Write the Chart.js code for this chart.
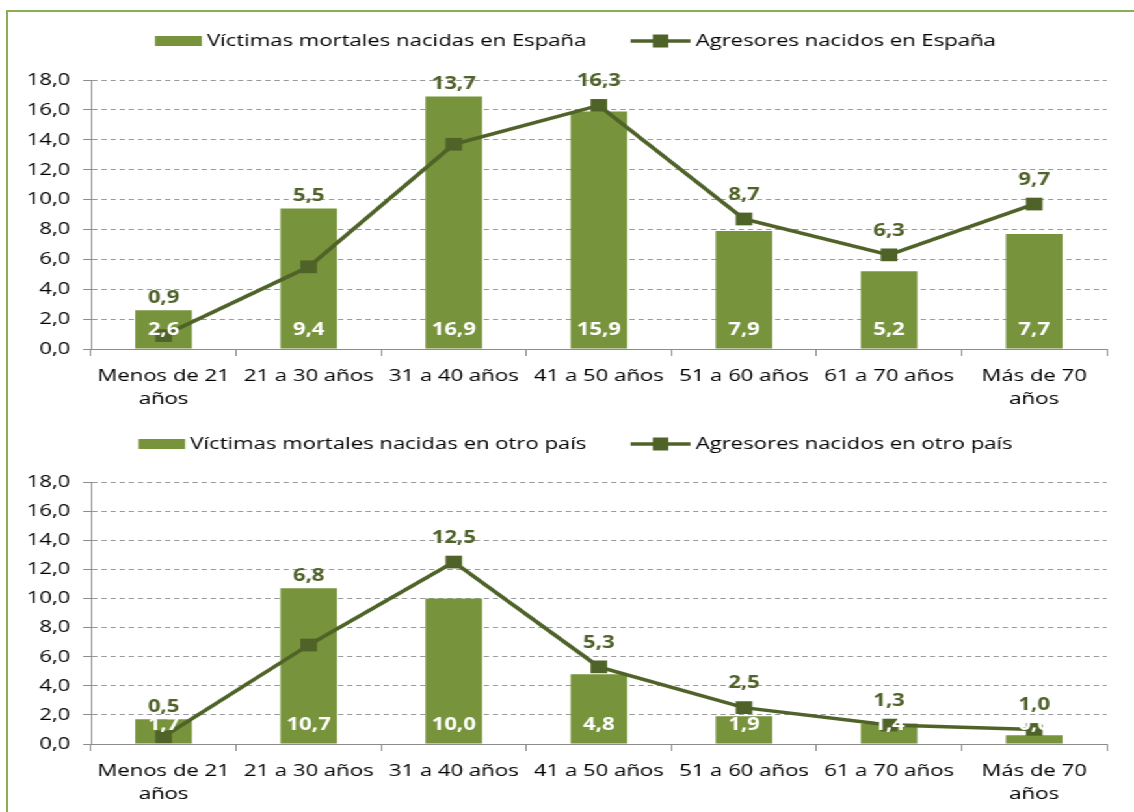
<!DOCTYPE html>
<html>
<head>
<meta charset="utf-8">
<script src="https://cdn.jsdelivr.net/npm/chart.js@4/dist/chart.umd.min.js"></script>
<style>
  html, body { margin: 0; padding: 0; background: #fff; }
  body { width: 1134px; height: 812px; overflow: hidden; position: relative; }
  #frame { position: absolute; left: 6px; top: 10px; right: -10px; bottom: -10px;
           border-left: 2px solid #8AAF52; border-top: 2px solid #8AAF52; }
  #wrap { position: absolute; left: 0; top: 0; width: 872px; height: 812px;
          transform: scaleX(1.3005); transform-origin: 0 0; }
  .box { position: absolute; left: 0; width: 872px; }
  #b1 { top: 0; height: 420px; }
  #b2 { top: 420px; height: 392px; }
</style>
</head>
<body>
<div id="frame"></div>
<div id="wrap">
  <div class="box" id="b1"><canvas id="c1"></canvas></div>
  <div class="box" id="b2"><canvas id="c2"></canvas></div>
</div>
<script>
// ---- Data ----
const categories = [["Menos de 21", "años"], "21 a 30 años", "31 a 40 años", "41 a 50 años", "51 a 60 años", "61 a 70 años", ["Más de 70", "años"]];
const victimasEspana = [2.6, 9.4, 16.9, 15.9, 7.9, 5.2, 7.7];
const agresoresEspana = [0.9, 5.5, 13.7, 16.3, 8.7, 6.3, 9.7];
const victimasOtro = [1.7, 10.7, 10.0, 4.8, 1.9, 1.4, 0.6];
const agresoresOtro = [0.5, 6.8, 12.5, 5.3, 2.5, 1.3, 1.0];
const legendTop = ["Víctimas mortales nacidas en España", "Agresores nacidos en España"];
const legendBottom = ["Víctimas mortales nacidas en otro país", "Agresores nacidos en otro país"];
const yMin = 0, yMax = 18, yStep = 2;

// ---- Styles ----
const BAR = '#77933C';
const LINE = '#4F6228';
const FONT = '"Open Sans", "Liberation Sans", sans-serif';
const FS = 17;
const fmt = v => v.toFixed(1).replace('.', ',');

const labelsPlugin = {
  id: 'valueLabels',
  afterDatasetsDraw(chart) {
    const ctx = chart.ctx;
    const barMeta = chart.getDatasetMeta(0);
    const lineMeta = chart.getDatasetMeta(1);
    const barData = chart.data.datasets[0].data;
    const lineData = chart.data.datasets[1].data;
    const y0 = chart.scales.y.getPixelForValue(0);
    ctx.save();
    ctx.font = `bold ${FS}px ${FONT}`;
    ctx.textAlign = 'center';
    ctx.textBaseline = 'middle';
    ctx.fillStyle = '#FFFFFF';
    barMeta.data.forEach((el, i) => {
      ctx.fillText(fmt(barData[i]), el.x, y0 - 19);
    });
    ctx.fillStyle = LINE;
    lineMeta.data.forEach((el, i) => {
      const barTop = barMeta.data[i].y;
      const y = Math.min(el.y - 24, barTop - 12);
      ctx.fillText(fmt(lineData[i]), el.x, y);
    });
    ctx.restore();
  }
};

const legendPlugin = {
  id: 'topLegend',
  afterDraw(chart, args, opts) {
    const ctx = chart.ctx;
    const names = chart.data.datasets.map(d => d.label);
    ctx.save();
    ctx.font = `${FS}px ${FONT}`;
    ctx.textBaseline = 'middle';
    const sw1 = 36, sw2 = 46, gapT = 4, gapItem = 34;
    const w1 = ctx.measureText(names[0]).width;
    const w2 = ctx.measureText(names[1]).width;
    const total = sw1 + gapT + w1 + gapItem + sw2 + gapT + w2;
    let x = opts.cx - total / 2;
    const y = opts.y;
    ctx.fillStyle = BAR;
    ctx.fillRect(x, y - 5, sw1, 10);
    x += sw1 + gapT;
    ctx.fillStyle = '#000';
    ctx.fillText(names[0], x, y);
    x += w1 + gapItem;
    ctx.strokeStyle = LINE;
    ctx.lineWidth = 3.5;
    ctx.beginPath();
    ctx.moveTo(x, y);
    ctx.lineTo(x + sw2, y);
    ctx.stroke();
    ctx.fillStyle = LINE;
    ctx.fillRect(x + sw2 / 2 - 6, y - 6.5, 12, 13);
    x += sw2 + gapT;
    ctx.fillStyle = '#000';
    ctx.fillText(names[1], x, y);
    ctx.restore();
  }
};

function makeChart(id, bars, line, names, padTop, padBottom, legendY) {
  return new Chart(document.getElementById(id), {
    data: {
      labels: categories,
      datasets: [
        { type: 'bar', label: names[0], data: bars, backgroundColor: BAR, borderWidth: 0,
          categoryPercentage: 1.0, barPercentage: 0.39, order: 1 },
        { type: 'line', label: names[1], data: line, borderColor: LINE, backgroundColor: LINE,
          borderWidth: 3.5, tension: 0, pointStyle: 'rect', pointRadius: 9, pointHoverRadius: 9,
          pointBackgroundColor: LINE, pointBorderColor: LINE, pointBorderWidth: 0, order: 0 }
      ]
    },
    options: {
      responsive: true,
      maintainAspectRatio: false,
      animation: false,
      layout: { padding: { top: padTop, bottom: padBottom, left: 0, right: 21 } },
      plugins: {
        legend: { display: false },
        tooltip: { enabled: false },
        topLegend: { cx: 442.5, y: legendY }
      },
      scales: {
        x: {
          offset: true,
          grid: { display: true, drawOnChartArea: false, drawTicks: true, offset: true,
                  tickLength: 7, tickColor: '#8C8C8C', tickWidth: 1 },
          border: { display: true, color: '#8C8C8C', width: 1 },
          ticks: { color: '#000', font: { family: FONT, size: FS, lineHeight: 1.35 },
                   padding: 9, maxRotation: 0, autoSkip: false },
          afterFit: s => { s.height = 56; }
        },
        y: {
          min: yMin, max: yMax,
          grid: { color: '#9A9A9A', lineWidth: 1, drawTicks: true, tickLength: 6,
                  tickColor: '#8C8C8C', tickBorderDash: [] },
          border: { display: true, color: '#8C8C8C', width: 1, dash: [4, 3] },
          ticks: { stepSize: yStep, color: '#000', padding: 10,
                   font: { family: FONT, size: FS }, callback: v => fmt(v) },
          afterFit: s => { s.width = 70; }
        }
      }
    },
    plugins: [labelsPlugin, legendPlugin]
  });
}

makeChart('c1', victimasEspana, agresoresEspana, legendTop, 80, 15, 41);
makeChart('c2', victimasOtro, agresoresOtro, legendBottom, 62, 12, 24);
</script>
</body>
</html>
